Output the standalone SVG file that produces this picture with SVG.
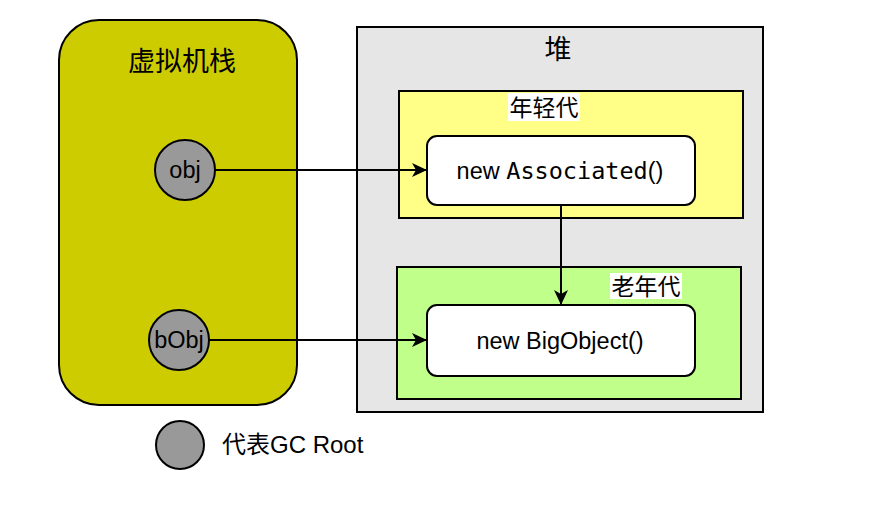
<svg xmlns="http://www.w3.org/2000/svg" width="892" height="510" viewBox="0 0 892 510">
<defs>
<style>
text{font-family:"Liberation Sans","Noto Sans CJK SC",sans-serif;fill:#000;}
.t{text-anchor:middle;}
.mono{font-family:"DejaVu Sans Mono","Liberation Mono",monospace;}
.root{fill:#999999;stroke:#000;stroke-width:2;}
.box{fill:#fff;stroke:#000;stroke-width:2;}
.conn{stroke:#000;stroke-width:2;fill:none;marker-end:url(#arr);}
</style>
<marker id="arr" markerUnits="userSpaceOnUse" markerWidth="16" markerHeight="14" refX="15" refY="7" orient="auto">
<path d="M0,0 L15,7 L0,14 L4,7 z" fill="#000"/>
</marker>
</defs>
<rect width="892" height="510" fill="#fff"/>
<g id="stack">
<rect x="59" y="20" width="238" height="385" rx="40" ry="40" fill="#CCCC00" stroke="#000" stroke-width="2"/>
<text class="t" x="182" y="71" font-size="27">虚拟机栈</text>
</g>
<g id="heap">
<rect x="357" y="27" width="406" height="385" fill="#E6E6E6" stroke="#000" stroke-width="2"/>
<text class="t" x="558" y="59" font-size="27">堆</text>
</g>
<g id="young">
<rect x="399" y="91" width="344" height="127" fill="#FFFF88" stroke="#000" stroke-width="2"/>
<rect x="508" y="93" width="72" height="28" fill="#fff"/>
<text class="t" x="544" y="116" font-size="23">年轻代</text>
</g>
<g id="old">
<rect x="397" y="267" width="344" height="132" fill="#C0FF8A" stroke="#000" stroke-width="2"/>
<rect x="610" y="273" width="72" height="26" fill="#fff"/>
<text class="t" x="646" y="295" font-size="23">老年代</text>
</g>
<g id="associated">
<rect class="box" x="427" y="136" width="268" height="69" rx="10" ry="10"/>
<text class="t" x="560" y="179" font-size="23.5">new <tspan class="mono">Associated</tspan>()</text>
</g>
<g id="bigobject">
<rect class="box" x="427" y="305" width="268" height="71" rx="10" ry="10"/>
<text class="t" x="560" y="349" font-size="23.5">new BigObject()</text>
</g>
<g id="obj">
<circle class="root" cx="185" cy="170" r="30"/>
<text class="t" x="185" y="178" font-size="23.5">obj</text>
</g>
<g id="bObj">
<circle class="root" cx="179" cy="340" r="30"/>
<text class="t" x="179" y="348" font-size="23.5">bObj</text>
</g>
<g id="legend">
<circle class="root" cx="180" cy="445" r="24"/>
<text x="222" y="453" font-size="24">代表GC Root</text>
</g>
<g id="connectors">
<path class="conn" d="M215,170 L427,170"/>
<path class="conn" d="M209,340 L427,340"/>
<path class="conn" d="M561,205 L561,305"/>
</g>
</svg>
